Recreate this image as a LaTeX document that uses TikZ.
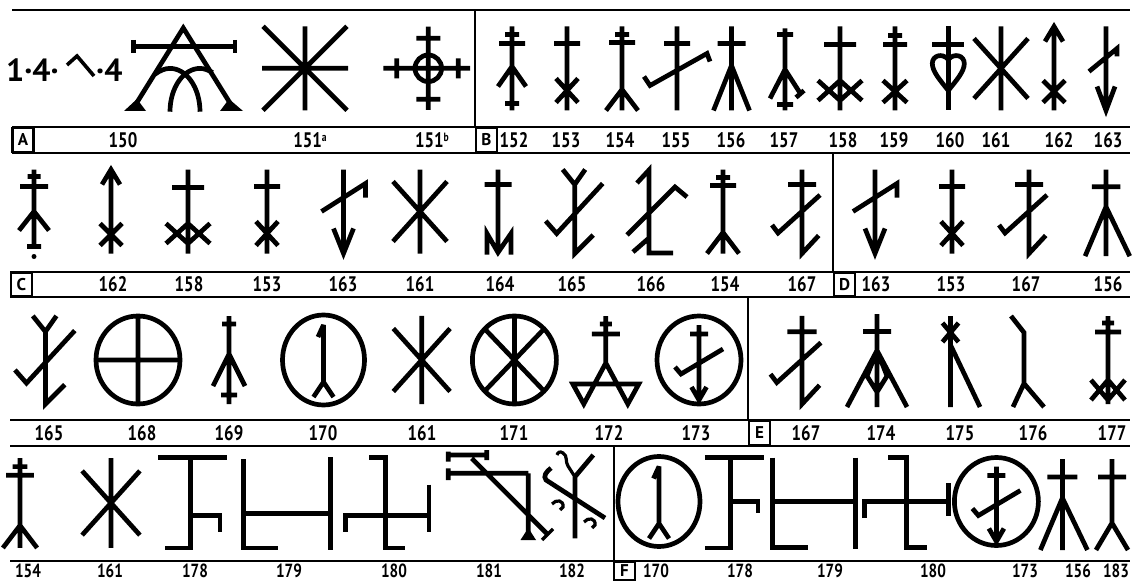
\documentclass[tikz,border=0pt]{standalone}
\usepackage{fontspec}
\setmainfont{PT Sans}
\newfontfamily\labfont[FakeStretch=0.8]{PT Sans}
\begin{document}
\begin{tikzpicture}[x=1pt,y=-1pt,
  g/.style={line width=4.7pt, line cap=butt, line join=miter, miter limit=4},
  gthin/.style={line width=3.2pt, line cap=butt, line join=miter},
  sep/.style={line width=1.3pt},
  rule/.style={line width=2.4pt},
  lab/.style={font=\labfont\bfseries\fontsize{21}{21}\selectfont, inner sep=0pt, anchor=center},
  labb/.style={font=\labfont\bfseries\fontsize{19}{19}\selectfont, inner sep=0pt, anchor=center},
  big/.style={font=\bfseries\fontsize{32}{32}\selectfont, inner sep=0pt},
  lbox/.style={draw, line width=2.8pt, font=\bfseries\fontsize{17}{17}\selectfont, inner sep=0pt, minimum width=21pt, minimum height=24pt},
  pics/p151a/.style={code={\draw[g] (-43,0)--(43,0) (0,-42)--(0,42) (-42,-42)--(42,42) (42,-42)--(-42,42); \fill (0,0) circle[radius=4.5];}},
  pics/p151b/.style={code={\draw[g] (0,0) circle[radius=13.3] (0,-41.6)--(0,41.7) (-45,0)--(41.7,0) (-12,-30)--(12,-30) (-12,31)--(12,31) (-31.6,-10)--(-31.6,10) (30,-10)--(30,10);}},
  pics/p152/.style={code={\draw[g] (0,-42)--(0,42) (-7,-34)--(7,-34) (-13,-25)--(13,-25) (-7,35)--(7,35) (-14,18)--(0,-2)--(14,18);}},
  pics/p152d/.style={code={\draw[g] (0,-42)--(0,35) (-6.5,-35)--(6.5,-35) (-14,-25)--(14,-25) (-7,35)--(7,35) (-15,19)--(0,0)--(15,19); \fill (0,45) circle[radius=2.5];}},
  pics/p153/.style={code={\draw[g] (0,-42)--(0,42) (-13,-25)--(13,-25) (-11,10)--(11,34) (11,10)--(-11,34);}},
  pics/p154/.style={code={\draw[g] (0,-42)--(0,42) (-7,-34)--(7,-34) (-13,-26)--(13,-26) (-16,42)--(0,21)--(16,42);}},
  pics/p155/.style={code={\draw[g] (0,-42)--(0,42) (-13,-25)--(13,-25) (-33,8)--(-27,17)--(30,-15)--(33,-7);}},
  pics/p156/.style={code={\draw[g] (0,-42)--(0,42) (-14,-25)--(14,-25) (-18,42)--(0,-3)--(18,42);}},
  pics/p156b/.style={code={\draw[g] (0,-44)--(0,47) (-15,-26)--(15,-26) (-22,47)--(0,-5)--(25,47);}},
  pics/p157/.style={code={\draw[g] (0,-40)--(0,42) (-8,-34)--(8,-34) (-8,36)--(8,36) (-15,30)--(0,1)--(16,26) (11,29)--(19,22);}},
  pics/p158/.style={code={\draw[g] (0,-42)--(0,42) (-16,-24)--(16,-24) (-22,12)--(0,32)--(22,12) (-22,32)--(0,12)--(22,32);}},
  pics/p159/.style={code={\draw[g] (0,-42)--(0,42) (-7,-33)--(7,-33) (-12,-24)--(12,-24) (-12,12)--(12,34) (12,12)--(-12,34);}},
  pics/p160/.style={code={\draw[g] (0,-42)--(0,42) (-16,-24)--(16,-24);
     \draw[g] (0,22) .. controls (-8,12) and (-16,3) .. (-16,-5) .. controls (-16,-13) and (-6,-16) .. (0,-9) .. controls (6,-16) and (16,-13) .. (16,-5) .. controls (16,3) and (8,12) .. (0,22);}},
  pics/p161/.style={code={\draw[g] (0,-42)--(0,42) (-27,-30)--(27,30) (27,-30)--(-27,30);}},
  pics/p162/.style={code={\draw[g] (0,-42)--(0,42) (-9,-27)--(0,-42)--(9,-27) (-11,12)--(11,34) (11,12)--(-11,34);}},
  pics/p163/.style={code={\draw[g] (0,-42)--(0,42) (-10,17)--(0,42)--(10,17) (-22,0)--(22,-28)--(22,-14);}},
  pics/p163a/.style={code={\draw[g] (0,-42)--(0,42) (-9,18)--(0,42)--(9,18) (-17,3)--(11,-20)--(11,-12);}},
  pics/p164/.style={code={\draw[g] (0,-42)--(0,40) (-13.5,-27)--(13.5,-27) (-11,43)--(-11,22)--(0,41)--(13,22)--(13,43);}},
  pics/p165/.style={code={\draw[g] (-12,-42)--(0,-27)--(10.5,-42) (0,-27)--(0,42)--(18.5,23.5) (-29,9.5)--(-18,22)--(28,-28);}},
  pics/p166/.style={code={\draw[g] (-12,-28.5)--(0,-41.5)--(0,41.5)--(24,41.5) (-22,23.5)--(26,-24.5)--(38,-14.5) (-16,40.5)--(0,26.5);}},
  pics/p167/.style={code={\draw[g] (0,-42)--(0,42)--(16.7,24) (-14,-27)--(14,-27) (-30,13.5)--(-24,21.5)--(18,-16.5);}},
  pics/p168/.style={code={\draw[g] (0,0) ellipse[x radius=42,y radius=44] (0,-44)--(0,44) (-42,0)--(42,0);}},
  pics/p169/.style={code={\draw[g] (0,-44)--(0,44) (-7,-36)--(7,-36) (-8,35)--(8,35) (-16,26)--(0,-6)--(16,26);}},
  pics/p170/.style={code={\draw[g] (0,0) ellipse[x radius=41,y radius=45] (-5.5,-23)--(0,-35)--(0,22) (-10,37)--(0,22)--(10,37);}},
  pics/p171/.style={code={\draw[g] (0,0) ellipse[x radius=42,y radius=44] (0,-44)--(0,44) (-29.7,-31.1)--(29.7,31.1) (29.7,-31.1)--(-29.7,31.1);}},
  pics/p172/.style={code={\draw[g] (0,-44)--(0,3) (-6,-36)--(6,-36) (-14,-26)--(14,-26) (-33,24)--(-22,44)--(0,3)--(22,44)--(33,24)--cycle;}},
  pics/p173/.style={code={\draw[g] (0,0) ellipse[x radius=42,y radius=44] (0,-35)--(0,40) (-9,-26)--(9,-26) (-24,7)--(-18,14)--(24,-11) (-7.5,27)--(0,40)--(7.5,27);}},
  pics/p174/.style={code={\draw[g] (0,-46)--(0,47) (-14,-28.5)--(14,-28.5) (-30,47)--(0,-9.5)--(30,47) (0,-9.5)--(-10,16)--(0,32)--(10,16)--cycle;}},
  pics/p175/.style={code={\draw[g] (0,-44)--(0,47) (-8,-37)--(8,-18) (8,-37)--(-8,-18) (0,-15)--(29.5,47);}},
  pics/p176/.style={code={\draw[g] (-13,-44)--(0,-27.5)--(0,23.5) (-11,47)--(0,23.5)--(20,47);}},
  pics/p177/.style={code={\draw[g] (0,-44)--(0,44) (-6,-37)--(6,-37) (-13,-28)--(13,-28) (-17,20)--(0,40)--(17,20) (-17,40)--(0,20)--(17,40);}},
  pics/p183/.style={code={\draw[g] (0,-44)--(0,20) (-14,-26)--(14,-26) (-16,47)--(0,20)--(16,47);}}
]
\useasboundingbox (0,0) rectangle (1135,583);
\fill[white] (0,0) rectangle (1135,583);

% ---------- rules and separators ----------
\draw[rule] (12,10) -- (1130,10);
\draw[rule] (12,127) -- (1130,127);
\draw[rule] (12,153) -- (1130,153);
\draw[rule] (10,272) -- (1130,272);
\draw[rule] (10,297) -- (1130,297);
\draw[rule] (10,420) -- (1130,420);
\draw[rule] (10,446) -- (1130,446);
\draw[rule] (10,561) -- (1130,561);
\draw[sep] (475,10) -- (475,127);
\draw[sep] (833,153) -- (833,272);
\draw[sep] (748,297) -- (748,420);
\draw[sep] (614,446) -- (614,561);

% ---------- letter boxes ----------
\node[lbox] (bA) at (23,140) {A};
\node[lbox] (bB) at (486.5,140) {B};
\node[lbox] (bC) at (21.5,284.5) {C};
\node[lbox] (bD) at (844.5,284.5) {D};
\node[lbox] (bE) at (759.5,433) {E};
\node[lbox, minimum height=18pt] (bF) at (624.5,571) {F};

% ---------- row 1 ----------
\node[big, anchor=west] (t1) at (6,70) {1·4·};
\draw[line width=3.6pt] (67,65) -- (77,56) -- (94,76);
\node[big, anchor=west] (t2) at (96,70) {·4};
% 150
\draw[g] (133.3,108.3) -- (183.3,28) -- (233.3,108.3);
\draw[g] (133.3,46.7) -- (235,46.7) (133.3,40) -- (133.3,53) (235,40) -- (235,53);
\draw[g] (155,74.2) .. controls (160,70.5) and (165,68.4) .. (170,68.4) .. controls (186.6,68.4) and (200,87.8) .. (200,111.7);
\draw[g] (212.7,72.5) .. controls (208,70) and (204,68.4) .. (200,68.4) .. controls (183.4,68.4) and (170,87.8) .. (170,111.7);
\fill (124,111) -- (146,111) -- (137,99) -- cycle;
\fill (220,111) -- (243,111) -- (229,99) -- cycle;
\pic at (305,68.3) {p151a};
\pic at (428.3,68.3) {p151b};
\pic at (512,68.5) {p152};
\pic at (567,68.5) {p153};
\pic at (622,68.5) {p154};
\pic at (677,68.5) {p155};
\pic at (731.5,68.5) {p156};
\pic at (785,68.5) {p157};
\pic at (840,68.5) {p158};
\pic at (895,68.5) {p159};
\pic at (948.3,68.5) {p160};
\pic at (1001,68.5) {p161};
\pic at (1054,68.5) {p162};
\pic at (1106,68.5) {p163a};

\node[lab] (a150) at (123,140) {150};
\node[lab] (a151a) at (310,140) {151\raisebox{0.3em}{\fontsize{12}{12}\selectfont a}};
\node[lab] (a151b) at (432,140) {151\raisebox{0.3em}{\fontsize{12}{12}\selectfont b}};
\node[lab] (b152) at (514,140) {152};
\node[lab] (b153) at (566,140) {153};
\node[lab] (b154) at (620,140) {154};
\node[lab] (b155) at (676,140) {155};
\node[lab] (b156) at (731,140) {156};
\node[lab] (b157) at (784,140) {157};
\node[lab] (b158) at (843,140) {158};
\node[lab] (b159) at (894,140) {159};
\node[lab] (b160) at (950,140) {160};
\node[lab] (b161) at (996,140) {161};
\node[lab] (b162) at (1059,140) {162};
\node[lab] (b163) at (1108,140) {163};

% ---------- row 2 ----------
\pic at (34,211.5) {p152d};
\pic at (111,211.5) {p162};
\pic at (188,211.5) {p158};
\pic at (267,211.5) {p153};
\pic at (343.5,211.5) {p163};
\pic at (420,211.5) {p161};
\pic at (498,211.5) {p164};
\pic at (574.7,211.5) {p165};
\pic at (649,211.5) {p166};
\pic at (723,211.5) {p154};
\pic at (802,211.5) {p167};
\pic at (875,211.5) {p163};
\pic at (952,211.5) {p153};
\pic at (1029,211.5) {p167};
\pic[scale=0.95] at (1106,211.5) {p156b};

\node[lab] (c162) at (113,284.5) {162};
\node[lab] (c158) at (189,284.5) {158};
\node[lab] (c153) at (267,284.5) {153};
\node[lab] (c163) at (343,284.5) {163};
\node[lab] (c161) at (420,284.5) {161};
\node[lab] (c164) at (500,284.5) {164};
\node[lab] (c165) at (572,284.5) {165};
\node[lab] (c166) at (651,284.5) {166};
\node[lab] (c154) at (725,284.5) {154};
\node[lab] (c167) at (802,284.5) {167};
\node[lab] (d163) at (876,284.5) {163};
\node[lab] (d153) at (951,284.5) {153};
\node[lab] (d167) at (1026,284.5) {167};
\node[lab] (d156) at (1108,284.5) {156};

% ---------- row 3 ----------
\pic[scale=1.05] at (45.4,360) {p165};
\pic at (138,360) {p168};
\pic at (229,360) {p169};
\pic at (323.5,360) {p170};
\pic[scale=1.05] at (421.7,360) {p161};
\pic at (514.4,360) {p171};
\pic at (605.8,360) {p172};
\pic at (699,360) {p173};
\pic[scale=1.05] at (802,360) {p167};
\pic at (877,360) {p174};
\pic at (950.5,360) {p175};
\pic at (1024,360) {p176};
\pic at (1108,360) {p177};

\node[lab] (e165) at (49,433) {165};
\node[lab] (e168) at (142,433) {168};
\node[lab] (e169) at (229,433) {169};
\node[lab] (e170) at (323,433) {170};
\node[lab] (e161) at (422,433) {161};
\node[lab] (e171) at (514,433) {171};
\node[lab] (e172) at (609,433) {172};
\node[lab] (e173) at (696,433) {173};
\node[lab] (e167) at (806,433) {167};
\node[lab] (e174) at (881,433) {174};
\node[lab] (e175) at (960,433) {175};
\node[lab] (e176) at (1033,433) {176};
\node[lab] (e177) at (1112,433) {177};

% ---------- row 4 ----------
\pic[scale=1.07] at (20,503) {p154};
\pic[scale=1.07] at (111,503) {p161};
% 178
\draw[g] (158.1,457.3) -- (227.2,457.3) (190.8,457.3) -- (190.8,548.1) -- (165.4,548.1) (190.8,515.4) -- (219.9,515.4) -- (219.9,531.8);
% 179
\draw[g] (243.5,459) -- (243.5,548.1) -- (278,548.1) (243.5,513.6) -- (330.8,513.6) (330.8,457) -- (330.8,550);
% 180
\draw[g] (369,457.3) -- (385.3,457.3) -- (385.3,548.1) -- (405.3,548.1) (345.3,531.8) -- (345.3,515.4) -- (429,515.4) (429,484.5) -- (429,531.8);
% 181
\draw[g] (448.3,455) -- (486.7,455) (448.3,451.7) -- (448.3,461.7) (486.7,450) -- (486.7,460)
  (448.3,473.3) -- (528.3,473.3) (448.3,468.3) -- (448.3,480) (528.3,473.3) -- (528.3,538) (471.7,458.3) -- (548.3,535);
\fill (520.5,540) -- (536,540) -- (528.3,528) -- cycle;
\draw[gthin] (542,540) -- (553,529);
% 182
\draw[g] (575,476.7) -- (575,538.3) (575,476.7) -- (593.3,455);
\draw[gthin] (575,477) -- (568,466) .. controls (565,462) and (568,456) .. (563,453) .. controls (560,451) and (558,452) .. (557,455);
\draw[g] (551,468) .. controls (546,472) and (543,476) .. (546,480) -- (605,518);
\draw[gthin] (552,504) .. controls (556,499) and (564,500) .. (563,507) -- (560,510);
\draw[gthin] (584,522) .. controls (588,517) and (596,518) .. (595,525) -- (592,528);
% F section
\pic at (659,501.5) {p170};
\draw[g] (704.8,457.5) -- (763.5,457.5) (730.5,457.5) -- (730.5,548) -- (704.8,548) (730.5,501.5) -- (758,501.5) -- (758,512.5);
\draw[g] (772.7,457.5) -- (772.7,547.3) -- (807.5,547.3) (772.7,501.5) -- (855.2,501.5) (855.2,457.5) -- (855.2,549);
\draw[g] (888.2,457.5) -- (906.5,457.5) -- (906.5,547.3) -- (926.7,547.3) (864.4,518) -- (864.4,501.5) -- (948.7,501.5) (948.7,483.2) -- (948.7,516.2);
\pic at (996.4,501.5) {p173};
\pic at (1062.4,503) {p156b};
\pic at (1112,503) {p183};

\node[labb] (f154) at (28,571) {154};
\node[labb] (f161) at (110,571) {161};
\node[labb] (f178) at (195,571) {178};
\node[labb] (f179) at (289,571) {179};
\node[labb] (f180) at (394,571) {180};
\node[labb] (f181) at (489,571) {181};
\node[labb] (f182) at (572,571) {182};
\node[labb] (g170) at (656,571) {170};
\node[labb] (g178) at (740,571) {178};
\node[labb] (g179) at (830,571) {179};
\node[labb] (g180) at (933,571) {180};
\node[labb] (g173) at (1025,571) {173};
\node[labb] (g156) at (1078,571) {156};
\node[labb] (g183) at (1116,571) {183};
\end{tikzpicture}
\end{document}
